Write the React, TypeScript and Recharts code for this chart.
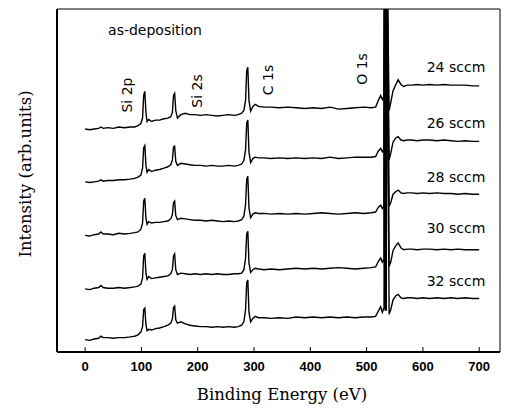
import { LineChart, Line, XAxis, YAxis, ReferenceArea } from "recharts";

// XPS survey spectra, as-deposited films at five O2 flows.
// Curves are stacked by hand (arb. units); O 1s runs off the top of the frame.

const energy = [
  0, 8, 16, 24, 28, 32, 40, 50, 60, 70,
  80, 88, 94, 99, 102, 104, 106, 108, 110, 113,
  118, 125, 132, 140, 147, 152, 155, 157, 159, 161,
  164, 170, 178, 186, 195, 205, 215, 225, 235, 245,
  255, 265, 272, 278, 282, 285, 287, 289, 291, 294,
  298, 302, 308, 318, 330, 345, 360, 375, 390, 405,
  420, 435, 450, 465, 480, 495, 508, 516, 521, 525,
  528, 531, 532, 533, 534, 535, 536, 540, 543, 547, 552, 556, 561,
  566, 572, 580, 590, 600, 612, 625, 638, 650, 662,
  675, 688, 700,
];

const sccm24 = [
  3.25, 3.24, 3.25, 3.26, 3.28, 3.26, 3.27, 3.26, 3.28, 3.27,
  3.28, 3.28, 3.3, 3.33, 3.41, 3.74, 3.8, 3.49, 3.36, 3.39,
  3.36, 3.38, 3.38, 3.4, 3.41, 3.43, 3.49, 3.74, 3.77, 3.52,
  3.41, 3.46, 3.48, 3.46, 3.46, 3.45, 3.46, 3.45, 3.44, 3.45,
  3.46, 3.45, 3.46, 3.48, 3.52, 3.67, 4.1, 4.15, 3.67, 3.51,
  3.58, 3.61, 3.58, 3.57, 3.57, 3.56, 3.57, 3.56, 3.55, 3.56,
  3.55, 3.57, 3.54, 3.55, 3.56, 3.57, 3.56, 3.57, 3.67, 3.74,
  3.68, 3.73, 6, 3.7, 6, 3.7, 6, 3.52, 3.64, 3.81, 3.9, 3.97, 3.9,
  3.87, 3.89, 3.89, 3.9, 3.89, 3.9, 3.89, 3.9, 3.89, 3.89,
  3.89, 3.88, 3.88,
];

const sccm26 = [
  2.48, 2.47, 2.48, 2.49, 2.51, 2.49, 2.5, 2.5, 2.51, 2.51,
  2.52, 2.53, 2.55, 2.58, 2.68, 2.98, 3.01, 2.72, 2.62, 2.66,
  2.63, 2.65, 2.66, 2.68, 2.7, 2.73, 2.8, 2.99, 3.0, 2.78,
  2.72, 2.75, 2.74, 2.73, 2.72, 2.72, 2.71, 2.72, 2.71, 2.71,
  2.72, 2.71, 2.72, 2.74, 2.79, 2.95, 3.34, 3.38, 2.92, 2.76,
  2.82, 2.84, 2.83, 2.83, 2.82, 2.83, 2.82, 2.83, 2.82, 2.83,
  2.82, 2.84, 2.82, 2.83, 2.84, 2.84, 2.84, 2.85, 2.93, 2.97,
  2.92, 2.96, 6, 2.92, 6, 2.92, 6, 2.8, 2.9, 3.06, 3.12, 3.14, 3.09,
  3.08, 3.09, 3.09, 3.08, 3.09, 3.09, 3.08, 3.09, 3.08, 3.07,
  3.08, 3.07, 3.07,
];

const sccm28 = [
  1.7, 1.69, 1.71, 1.72, 1.75, 1.72, 1.72, 1.71, 1.73, 1.72,
  1.73, 1.74, 1.75, 1.79, 1.88, 2.2, 2.24, 1.95, 1.86, 1.9,
  1.88, 1.89, 1.89, 1.9, 1.91, 1.94, 2.0, 2.18, 2.2, 1.99,
  1.93, 1.95, 1.94, 1.93, 1.92, 1.92, 1.91, 1.92, 1.91, 1.9,
  1.91, 1.9, 1.91, 1.93, 1.98, 2.15, 2.52, 2.56, 2.1, 1.96,
  2.01, 2.03, 2.02, 2.02, 2.01, 2.02, 2.01, 2.02, 2.01, 2.02,
  2.03, 2.02, 2.01, 2.02, 2.03, 2.02, 2.03, 2.04, 2.11, 2.14,
  2.09, 2.13, 6, 2.1, 6, 2.1, 6, 2.12, 2.18, 2.3, 2.34, 2.36, 2.32,
  2.31, 2.32, 2.32, 2.31, 2.32, 2.31, 2.32, 2.31, 2.31, 2.3,
  2.31, 2.3, 2.3,
];

const sccm30 = [
  0.92, 0.91, 0.93, 0.94, 0.97, 0.94, 0.93, 0.93, 0.94, 0.93,
  0.94, 0.95, 0.96, 0.99, 1.08, 1.4, 1.44, 1.15, 1.06, 1.1,
  1.07, 1.08, 1.09, 1.1, 1.11, 1.14, 1.2, 1.4, 1.43, 1.2,
  1.13, 1.15, 1.14, 1.13, 1.14, 1.13, 1.14, 1.13, 1.14, 1.13,
  1.13, 1.14, 1.14, 1.15, 1.2, 1.36, 1.72, 1.76, 1.3, 1.16,
  1.2, 1.22, 1.21, 1.2, 1.21, 1.2, 1.21, 1.22, 1.21, 1.22,
  1.21, 1.22, 1.23, 1.22, 1.21, 1.22, 1.23, 1.24, 1.32, 1.37,
  1.31, 1.35, 6, 1.3, 6, 1.3, 6, 1.25, 1.31, 1.48, 1.55, 1.59, 1.52,
  1.49, 1.5, 1.5, 1.49, 1.5, 1.5, 1.49, 1.5, 1.49, 1.5,
  1.49, 1.49, 1.49,
];

const sccm32 = [
  0.18, 0.17, 0.19, 0.2, 0.23, 0.21, 0.21, 0.2, 0.21, 0.21,
  0.22, 0.23, 0.25, 0.29, 0.37, 0.62, 0.64, 0.4, 0.31, 0.33,
  0.32, 0.34, 0.35, 0.37, 0.39, 0.42, 0.48, 0.65, 0.67, 0.47,
  0.42, 0.44, 0.41, 0.39, 0.38, 0.37, 0.37, 0.36, 0.37, 0.36,
  0.37, 0.36, 0.37, 0.39, 0.44, 0.62, 1.01, 1.05, 0.58, 0.44,
  0.49, 0.52, 0.5, 0.5, 0.49, 0.5, 0.49, 0.51, 0.5, 0.51,
  0.5, 0.51, 0.5, 0.51, 0.5, 0.51, 0.51, 0.52, 0.6, 0.66,
  0.58, 0.65, 6, 0.6, 6, 0.6, 6, 0.55, 0.62, 0.76, 0.82, 0.84, 0.79,
  0.78, 0.79, 0.79, 0.78, 0.79, 0.78, 0.79, 0.78, 0.79, 0.78,
  0.79, 0.78, 0.78,
];

const seriesNames = ["24 sccm", "26 sccm", "28 sccm", "30 sccm", "32 sccm"];
const xTicks = [0, 100, 200, 300, 400, 500, 600, 700];
const yTicks = [1, 2, 3, 4];

const rows = energy.map((e, i) => ({
  e,
  s24: sccm24[i],
  s26: sccm26[i],
  s28: sccm28[i],
  s30: sccm30[i],
  s32: sccm32[i],
}));

const keys = ["s24", "s26", "s28", "s30", "s32"];

// label spots in overlay px (overlay origin = chart origin)
const seriesLabelY = [59, 115, 169, 220, 273];
const peakLabels = [
  { text: "Si 2p", x: 119, y: 87 },
  { text: "Si 2s", x: 189, y: 83 },
  { text: "C 1s", x: 260, y: 72 },
  { text: "O 1s", x: 354, y: 61 },
];

const sans = "'DejaVu Sans', sans-serif";
const serif = "'DejaVu Serif', serif";

export default function App() {
  return (
    <div style={{ position: "relative", width: 501, height: 400 }}>
      <LineChart
        width={501}
        height={392}
        data={rows}
        margin={{ top: 1, right: 9, left: 0, bottom: 0 }}
      >
        <XAxis
          dataKey="e"
          type="number"
          domain={[-50, 737]}
          ticks={xTicks}
          height={48}
          axisLine={{ stroke: "#000", strokeWidth: 2 }}
          tickLine={{ stroke: "#000" }}
          tickSize={-5}
          tickMargin={15}
          tick={{ fill: "#000", fontSize: 13, fontWeight: 700, fontFamily: "'Liberation Sans', Arial" }}
        />
        <YAxis
          type="number"
          domain={[0, 5]}
          allowDataOverflow
          ticks={yTicks}
          width={49}
          axisLine={{ stroke: "#000", strokeWidth: 2 }}
          tickLine={{ stroke: "#000" }}
          tickSize={-6}
          tick={false}
        />
        <ReferenceArea x1={-50} x2={737} y1={0} y2={5} fill="none" stroke="#000" strokeWidth={1} />
        {keys.map((k) => (
          <Line
            key={k}
            dataKey={k}
            type="linear"
            stroke="#000"
            strokeWidth={1.4}
            dot={false}
            isAnimationActive={false}
          />
        ))}
      </LineChart>
      <svg
        width={501}
        height={400}
        style={{ position: "absolute", left: 0, top: 0, pointerEvents: "none" }}
      >
        <text x={147} y={22} textAnchor="middle" dominantBaseline="central" fontFamily={sans} fontSize={14}>
          as-deposition
        </text>
        {peakLabels.map((p) => (
          <text
            key={p.text}
            x={p.x}
            y={p.y}
            textAnchor="middle"
            dominantBaseline="central"
            fontFamily={sans}
            fontSize={14}
            transform={`rotate(-90 ${p.x} ${p.y})`}
          >
            {p.text}
          </text>
        ))}
        {seriesNames.map((n, i) => (
          <text
            key={n}
            x={448}
            y={seriesLabelY[i]}
            textAnchor="middle"
            dominantBaseline="central"
            fontFamily={sans}
            fontSize={14}
          >
            {n}
          </text>
        ))}
        <text
          x={17}
          y={166}
          textAnchor="middle"
          dominantBaseline="central"
          fontFamily={serif}
          fontSize={16.5}
          transform="rotate(-90 17 166)"
        >
          Intensity (arb.units)
        </text>
        <text x={274} y={392} textAnchor="middle" fontFamily={serif} fontSize={16.5}>
          Binding Energy (eV)
        </text>
      </svg>
    </div>
  );
}
